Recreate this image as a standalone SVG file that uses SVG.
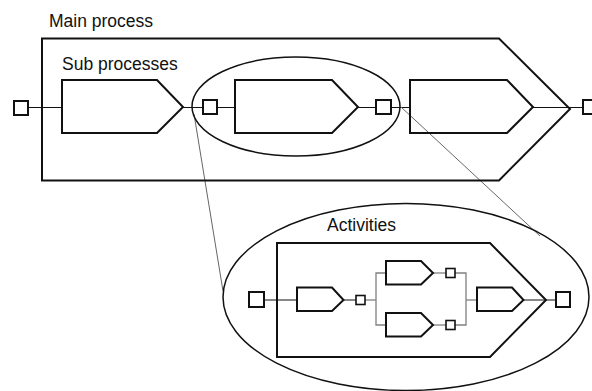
<svg xmlns="http://www.w3.org/2000/svg" width="592" height="391" viewBox="0 0 592 391">
<style>
.shape{fill:none;stroke:#111;stroke-width:2;stroke-linejoin:miter}
.box{fill:#fff;stroke:#111;stroke-width:2}
.sbox{fill:#fff;stroke:#111;stroke-width:1.6}
.ell{fill:none;stroke:#111;stroke-width:1.5}
.ln{stroke:#111;stroke-width:1;fill:none}
.gl{stroke:#808080;stroke-width:1.3;fill:none}
.zl{stroke:#666;stroke-width:1;fill:none}
.lbl{font-family:"Liberation Sans",Arial,sans-serif;font-size:17.5px;fill:#111}
</style>
<rect width="592" height="391" fill="#fff"/>
<g id="connectors">
  <line class="ln" x1="28" y1="107.5" x2="62" y2="107.5"/>
  <line class="ln" x1="183" y1="107.5" x2="203" y2="107.5"/>
  <line class="ln" x1="217" y1="107.5" x2="235" y2="107.5"/>
  <line class="ln" x1="358" y1="107.5" x2="376" y2="107.5"/>
  <line class="ln" x1="391" y1="107.5" x2="410" y2="107.5"/>
  <line class="ln" x1="533" y1="107.5" x2="583" y2="107.5"/>
  <line class="zl" x1="194" y1="114" x2="223" y2="291"/>
  <line class="zl" x1="401" y1="107" x2="540" y2="236"/>
  <line class="ln" x1="264" y1="300" x2="297" y2="300"/>
  <line class="ln" x1="343.5" y1="300" x2="356" y2="300"/>
  <line class="ln" x1="523.5" y1="300" x2="556" y2="300"/>
  <polyline class="gl" points="365,300 376,300"/>
  <polyline class="gl" points="386,273 376,273 376,325 386,325"/>
  <line class="gl" x1="433" y1="273" x2="446" y2="273"/>
  <line class="gl" x1="433" y1="325" x2="446" y2="325"/>
  <polyline class="gl" points="455,273 466,273 466,325 455,325"/>
  <line class="gl" x1="466" y1="300" x2="477" y2="300"/>
</g>
<g id="main-process">
  <polygon class="shape" points="42,38.5 499,38.5 570,109 499,180.5 42,180.5"/>
  <text class="lbl" x="49" y="27">Main process</text>
</g>
<g id="sub-processes-label"><text class="lbl" x="62" y="70">Sub processes</text></g>
<g id="start-main"><rect class="box" x="14" y="101" width="14" height="14"/></g>
<g id="sub1"><polygon class="shape" points="62,80 157,80 183,107 157,133 62,133"/></g>
<g id="sub-focus"><ellipse class="ell" cx="296" cy="106.5" rx="104" ry="49.5"/></g>
<g id="sq-in"><rect class="box" x="203" y="100" width="14" height="14"/></g>
<g id="sub2"><polygon class="shape" points="235,80 332,80 358,107 332,133 235,133"/></g>
<g id="sq-out"><rect class="box" x="376" y="100" width="15" height="14"/></g>
<g id="sub3"><polygon class="shape" points="410,80 507,80 533,107 507,133 410,133"/></g>
<g id="end-main"><rect class="box" x="583" y="100" width="14" height="14"/></g>
<g id="activities">
  <ellipse class="ell" cx="406" cy="297" rx="183" ry="93.5"/>
  <text class="lbl" x="327" y="231">Activities</text>
  <polygon class="shape" points="277,243 490,243 546,300 490,357 277,357"/>
</g>
<g id="act-start"><rect class="box" x="249" y="292" width="15" height="15"/></g>
<g id="act1"><polygon class="shape" points="297,287.5 332,287.5 343.5,300 332,311 297,311"/></g>
<g id="act1-sq"><rect class="sbox" x="356" y="295.5" width="9" height="9"/></g>
<g id="act2"><polygon class="shape" points="386,261 421,261 433,273 421,284.5 386,284.5"/></g>
<g id="act2-sq"><rect class="sbox" x="446" y="268.5" width="9" height="9"/></g>
<g id="act3"><polygon class="shape" points="386,313 421,313 433,325 421,336.5 386,336.5"/></g>
<g id="act3-sq"><rect class="sbox" x="446" y="320.5" width="9" height="9"/></g>
<g id="act4"><polygon class="shape" points="477,287.5 512,287.5 523.5,300 512,311 477,311"/></g>
<g id="act-end"><rect class="box" x="556" y="292" width="14" height="15"/></g>
</svg>
